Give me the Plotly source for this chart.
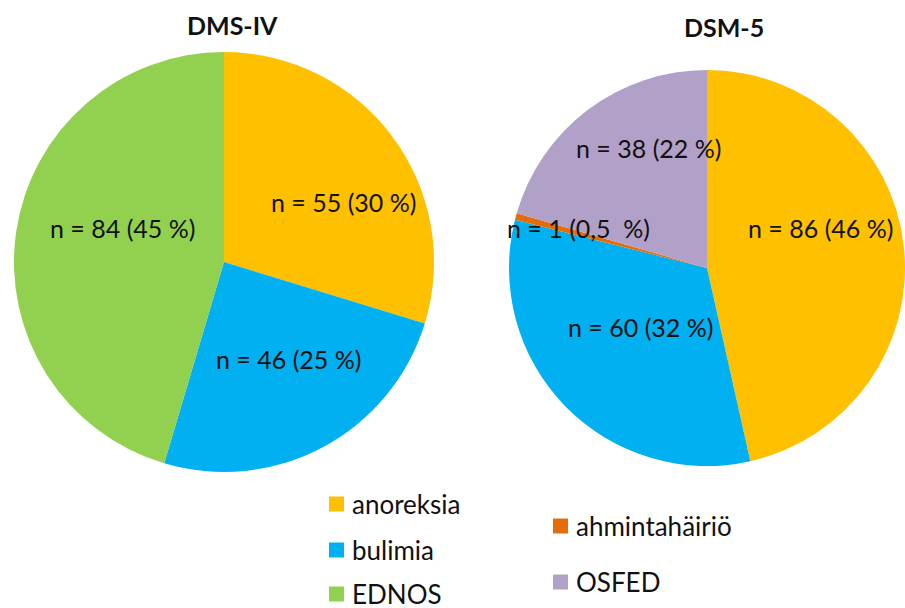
import plotly.graph_objects as go

W, H = 905, 608

# Diagnoses (shared legend order)
categories = ["anoreksia", "bulimia", "EDNOS", "ahmintahäiriö", "OSFED"]
colors = {
    "anoreksia": "#FFC000",
    "bulimia": "#00B0F0",
    "EDNOS": "#92D050",
    "ahmintahäiriö": "#E46C0A",
    "OSFED": "#B1A0C7",
}

# DSM-IV classification
dsm4_labels = ["anoreksia", "bulimia", "EDNOS"]
dsm4_counts = [55, 46, 84]
dsm4_pct = ["30", "25", "45"]

# DSM-5 classification
dsm5_labels = ["anoreksia", "bulimia", "ahmintahäiriö", "OSFED"]
dsm5_counts = [86, 60, 1, 38]
dsm5_pct = ["46", "32", "0,5\u00a0", "22"]

FONT = "Lato, 'Open Sans', sans-serif"
TXT = "#111111"


def px(x, y):
    """pixel -> paper coordinates"""
    return x / W, 1 - y / H


def dom(cx, cy, r):
    x0, y1 = px(cx - r, cy - r)
    x1, y0 = px(cx + r, cy + r)
    return dict(x=[max(x0, 0), min(x1, 1)], y=[y0, y1])


fig = go.Figure()

fig.add_trace(go.Pie(
    labels=dsm4_labels, values=dsm4_counts, sort=False, direction="clockwise",
    rotation=0, marker=dict(colors=[colors[c] for c in dsm4_labels], line=dict(width=0)),
    textinfo="none", hoverinfo="label+value", showlegend=False,
    domain=dom(224, 262, 210),
))
fig.add_trace(go.Pie(
    labels=dsm5_labels, values=dsm5_counts, sort=False, direction="clockwise",
    rotation=0, marker=dict(colors=[colors[c] for c in dsm5_labels], line=dict(width=0)),
    textinfo="none", hoverinfo="label+value", showlegend=False,
    domain=dom(707, 268, 198),
))

annotations = []

# Slice labels
dsm4_pos = [(343, 202), (288, 359), (122, 228)]
dsm5_pos = [(820, 228), (640, 327), (578, 228), (648, 148)]
for counts, pcts, pos in ((dsm4_counts, dsm4_pct, dsm4_pos), (dsm5_counts, dsm5_pct, dsm5_pos)):
    for c, p, (x, y) in zip(counts, pcts, pos):
        ax, ay = px(x, y)
        annotations.append(dict(
            x=ax, y=ay, xref="paper", yref="paper", showarrow=False,
            text=f"n = {c} ({p} %)", font=dict(family=FONT, size=25, color=TXT),
            xanchor="center", yanchor="middle",
        ))

# Titles
for title, (x, y) in (("DMS-IV", (232, 25)), ("DSM-5", (724, 27))):
    ax, ay = px(x, y)
    annotations.append(dict(
        x=ax, y=ay, xref="paper", yref="paper", showarrow=False,
        text=f"<b>{title}</b>", font=dict(family=FONT, size=25, color=TXT),
        xanchor="center", yanchor="middle",
    ))

# Legend (two columns)
legend_pos = {
    "anoreksia": (329, 504),
    "bulimia": (329, 550),
    "EDNOS": (329, 594),
    "ahmintahäiriö": (553, 526),
    "OSFED": (553, 582),
}
shapes = []
SQ = 15
for name in categories:
    x, y = legend_pos[name]
    x0, y0 = px(x, y + SQ / 2)
    x1, y1 = px(x + SQ, y - SQ / 2)
    shapes.append(dict(type="rect", xref="paper", yref="paper", x0=x0, x1=x1, y0=y0, y1=y1,
                       fillcolor=colors[name], line=dict(width=0)))
    ax, ay = px(x + SQ + 6, y)
    annotations.append(dict(
        x=ax, y=ay, xref="paper", yref="paper", showarrow=False,
        text=name, font=dict(family=FONT, size=26, color=TXT),
        xanchor="left", yanchor="middle",
    ))

fig.update_layout(
    width=W, height=H, margin=dict(l=0, r=0, t=0, b=0),
    paper_bgcolor="white", plot_bgcolor="white",
    annotations=annotations, shapes=shapes, showlegend=False,
)

fig.write_html("out.html")
